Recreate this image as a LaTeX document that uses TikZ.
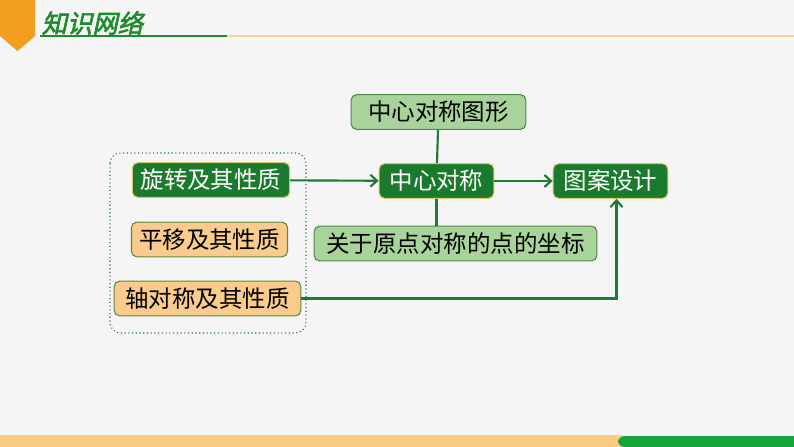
\documentclass[tikz,border=0pt]{standalone}
\usepackage{fontspec}
\setmainfont{Noto Sans CJK SC}
\newfontfamily\titlefont[FakeSlant=0.22,FakeBold=2.5]{Noto Sans CJK SC}
\usetikzlibrary{arrows.meta}

\definecolor{bggray}{HTML}{F5F5F5}
\definecolor{banner}{HTML}{F39D1E}
\definecolor{titlegreen}{HTML}{1E8C2E}
\definecolor{lineorange}{HTML}{F5D39B}
\definecolor{barorange}{HTML}{FBCB84}
\definecolor{bargreen}{HTML}{17A53B}
\definecolor{darkfill}{HTML}{1B7A2D}
\definecolor{darkedge}{HTML}{D9C36A}
\definecolor{lightfill}{HTML}{A8D49C}
\definecolor{lightedge}{HTML}{4C8A48}
\definecolor{orangefill}{HTML}{F9CB8C}
\definecolor{orangeedge}{HTML}{5E8A3A}
\definecolor{linkgreen}{HTML}{217A33}

\tikzset{
  box/.style={rounded corners=4pt, minimum height=26pt, inner sep=0pt,
    font=\fontsize{17.6pt}{17.6pt}\selectfont, line width=0.8pt},
  darkbox/.style={box, fill=darkfill, draw=darkedge, text=white},
  lightbox/.style={box, fill=lightfill, draw=lightedge, text=black},
  orangebox/.style={box, fill=orangefill, draw=orangeedge, text=black},
  link/.style={draw=linkgreen, line width=1.6pt},
  arr/.style={link, -{Straight Barb[length=5pt,width=9pt,line width=1.6pt]}}
}

\begin{document}
\begin{tikzpicture}[x=0.75pt, y=-0.75pt]
    % page and background
    \useasboundingbox (0,0) rectangle (794,447);
    \fill[bggray] (0,0) rectangle (794,447);

    % header banner and title
    \fill[banner] (0,0) -- (35,0) -- (35,36) -- (17.5,51) -- (0,36) -- cycle;
    \node[text=titlegreen, font=\titlefont\fontsize{19pt}{19pt}\selectfont, anchor=west] (title) at (37,23) {知识网络};
    \draw[lineorange, line width=1.5pt] (227,36) -- (794,36);
    \draw[titlegreen, line width=1.8pt] (40,36) -- (227,36);

    % bottom bar
    \fill[barorange] (0,435) rectangle (622,447);
    \fill[bargreen] (794,447) [rounded corners=5pt] -- (618,447) -- (618,436) [sharp corners] -- (794,436) -- cycle;

    % group frame
    \draw[linkgreen, dotted, line width=0.8pt, rounded corners=8pt] (110,153) rectangle (306,333);

    % nodes
    \node[lightbox, minimum width=131pt] (tuxing) at (438.5,112) {中心对称图形};
    \node[darkbox, minimum width=86pt] (zhongxin) at (436.5,181) {中心对称};
    \node[darkbox, minimum width=86pt] (tuan) at (610.5,181) {图案设计};
    \node[lightbox, minimum width=212pt] (yuandian) at (455.5,243.5) {关于原点对称的点的坐标};
    \node[darkbox, minimum width=118pt] (xuanzhuan) at (211,180) {旋转及其性质};
    \node[orangebox, minimum width=117pt] (pingyi) at (209.5,239.5) {平移及其性质};
    \node[orangebox, minimum width=140pt] (zhou) at (207.5,298.5) {轴对称及其性质};

    % connectors
    \draw[arr] (xuanzhuan) -- (zhongxin);
    \draw[arr] (zhongxin) -- (tuan);
    \draw[link] (tuxing) -- (zhongxin);
    \draw[link] (zhongxin.south) -- (zhongxin.south |- yuandian.north);
    \draw[arr] (zhou.east) -| ([xshift=4.5pt]tuan.south);

\end{tikzpicture}
\end{document}
